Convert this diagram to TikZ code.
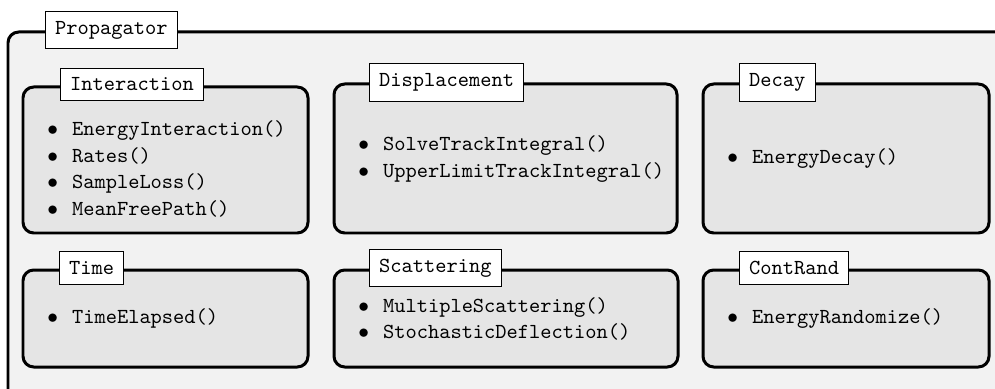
\documentclass[tikz,border=0pt]{standalone}
\definecolor{outerbg}{gray}{0.95}
\definecolor{innerbg}{gray}{0.9}
\tikzset{
	panel/.style={draw=black, line width=1.4pt, rounded corners=5pt},
	tag/.style={draw=black, fill=white, line width=0.5pt, inner sep=4.5pt, font=\ttfamily, anchor=west},
	items/.style={anchor=west, align=left, inner sep=0pt, font=\ttfamily\fontsize{10}{12.5}\selectfont},
}
\newcommand{\itm}[1]{\makebox[11.5pt][l]{$\bullet$}#1}
\begin{document}
\begin{tikzpicture}[x=0.467pt,y=-0.467pt]
			\useasboundingbox (0,0) rectangle (995,389);
			\clip (0,0) rectangle (995,389);
			% outer class box, runs off the page on the right and bottom
			\filldraw[panel, fill=outerbg] (8,32) rectangle (1030,430);
			\node[tag] (prop) at (45,30) {Propagator};
			% top row
			\filldraw[panel, fill=innerbg] (23,87) rectangle (308,233);
			\node[tag] (inter) at (60,84.5) {Interaction};
			\node[items] (interlist) at (47,169) {\itm{EnergyInteraction()}\\\itm{Rates()}\\\itm{SampleLoss()}\\\itm{MeanFreePath()}};
			\filldraw[panel, fill=innerbg] (334,84) rectangle (677,233);
			\node[tag] (displ) at (369,82.5) {Displacement};
			\node[items] (displlist) at (358,159) {\itm{SolveTrackIntegral()}\\\itm{UpperLimitTrackIntegral()}};
			\filldraw[panel, fill=innerbg] (703,84) rectangle (989,233);
			\node[tag] (decay) at (739,82.5) {Decay};
			\node[items] (decaylist) at (727,158.5) {\itm{EnergyDecay()}};
			% bottom row
			\filldraw[panel, fill=innerbg] (23,270) rectangle (308,367);
			\node[tag] (time) at (59,268) {Time};
			\node[items] (timelist) at (47,318.5) {\itm{TimeElapsed()}};
			\filldraw[panel, fill=innerbg] (334,270) rectangle (678,367);
			\node[tag] (scat) at (369,268) {Scattering};
			\node[items] (scatlist) at (358,319) {\itm{MultipleScattering()}\\\itm{StochasticDeflection()}};
			\filldraw[panel, fill=innerbg] (703,270) rectangle (989,367);
			\node[tag] (cont) at (739,268) {ContRand};
			\node[items] (contlist) at (727,318.5) {\itm{EnergyRandomize()}};
		\end{tikzpicture}
\end{document}
